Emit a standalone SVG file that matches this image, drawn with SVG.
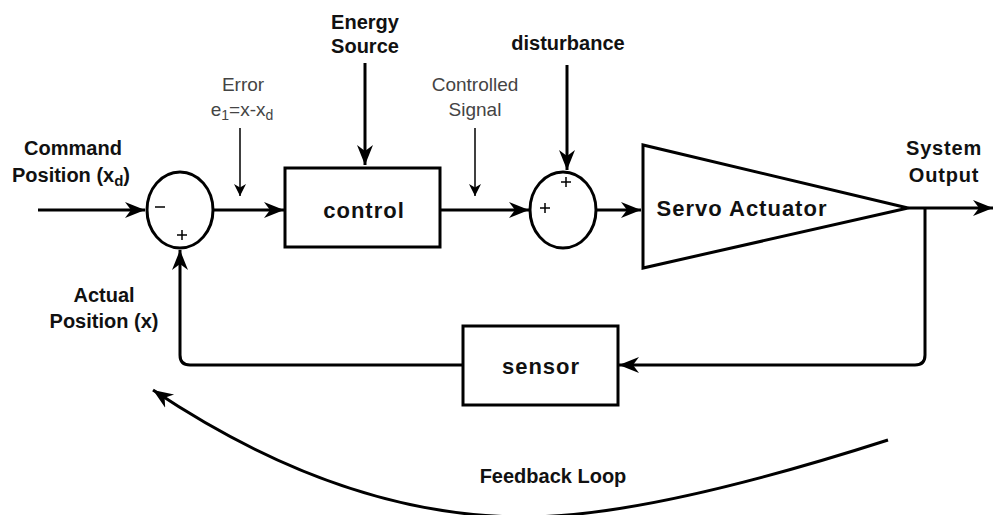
<svg xmlns="http://www.w3.org/2000/svg" width="995" height="515" viewBox="0 0 995 515">
<defs>
<style>
.s{fill:none;stroke:#000;stroke-width:3}
.t{fill:none;stroke:#000;stroke-width:1.5}
.n{fill:#fff;stroke:#000;stroke-width:3}
.b{font-family:"Liberation Sans",Arial,sans-serif;font-weight:bold;font-size:20px;fill:#111;text-anchor:middle}
.k{font-size:22px;letter-spacing:1px}
.g{font-family:"Liberation Sans",Arial,sans-serif;font-size:19px;fill:#444;text-anchor:middle}
</style>
<marker id="a2" viewBox="0 0 10 10" refX="10" refY="5" markerWidth="12" markerHeight="12" markerUnits="userSpaceOnUse" orient="auto">
<path d="M0,0 L10,5 L0,10 L3,5 Z" fill="#000"/>
</marker>
<marker id="a3" viewBox="0 0 10 10" refX="10" refY="5" markerWidth="20" markerHeight="20" markerUnits="userSpaceOnUse" orient="auto">
<path d="M0,1 L10,5 L0,9 L3,5 Z" fill="#000"/>
</marker>
</defs>
<g id="connectors">
<path class="s" d="M38,210 L145,210" marker-end="url(#a3)"/>
<path class="s" d="M213,210 L284,210" marker-end="url(#a3)"/>
<path class="s" d="M365,63 L365,165" marker-end="url(#a3)"/>
<path class="t" d="M240,128 L240,196" marker-end="url(#a2)"/>
<path class="t" d="M475,128 L475,196" marker-end="url(#a2)"/>
<path class="s" d="M440,210 L529,210" marker-end="url(#a3)"/>
<path class="s" d="M567,65 L567,170" marker-end="url(#a3)"/>
<path class="s" d="M597,210 L641,210" marker-end="url(#a3)"/>
<path class="s" d="M908,208 L993,208" marker-end="url(#a3)"/>
<path class="s" d="M925,208 L925,355 Q925,365 915,365 L619,365" marker-end="url(#a3)"/>
<path class="s" d="M463,365 L190,365 Q180,365 180,355 L180,250" marker-end="url(#a3)"/>
<path class="s" d="M888,440 Q648,517 525,517 Q343,517 153,390" marker-end="url(#a3)"/>
</g>
<g id="sum1">
<ellipse class="n" cx="180" cy="210" rx="33" ry="38"/>
<path class="t" stroke-width="2" d="M155,207 H165 M177,235 H187 M182,230 V240"/>
</g>
<g id="control">
<rect class="n" x="285" y="168" width="155" height="79"/>
<text class="b k" x="364" y="218">control</text>
</g>
<g id="sum2">
<ellipse class="n" cx="563" cy="210" rx="33" ry="38"/>
<path class="t" stroke-width="2" d="M561,182 H571 M566,177 V187 M540,208 H550 M545,203 V213"/>
</g>
<g id="actuator">
<path class="n" d="M643,145 L643,268 L908,208 Z"/>
<text class="b k" x="742" y="216">Servo Actuator</text>
</g>
<g id="sensor">
<rect class="n" x="463" y="326" width="155" height="79"/>
<text class="b k" x="541" y="374">sensor</text>
</g>
<g id="labels">
<text class="b" x="365" y="29" font-size="19.5">Energy</text>
<text class="b" x="365" y="53" font-size="19.5">Source</text>
<text class="b" x="568" y="50" font-size="21">disturbance</text>
<text class="g" x="243" y="91">Error</text>
<text class="g" x="242" y="116">e<tspan font-size="14" dy="4">1</tspan><tspan dy="-4">=x-x</tspan><tspan font-size="14" dy="4">d</tspan></text>
<text class="g" x="475" y="91">Controlled</text>
<text class="g" x="475" y="116">Signal</text>
<text class="b" x="73" y="155" font-size="20.5">Command</text>
<text class="b" x="71" y="182" font-size="20.5">Position (x<tspan font-size="15" dy="4">d</tspan><tspan dy="-4">)</tspan></text>
<text class="b" x="944" y="155" font-size="22" letter-spacing="0.8">System</text>
<text class="b" x="944" y="182" font-size="22" letter-spacing="0.8">Output</text>
<text class="b" x="104" y="302">Actual</text>
<text class="b" x="104" y="328">Position (x)</text>
<text class="b" x="553" y="483" font-size="20">Feedback Loop</text>
</g>
</svg>
